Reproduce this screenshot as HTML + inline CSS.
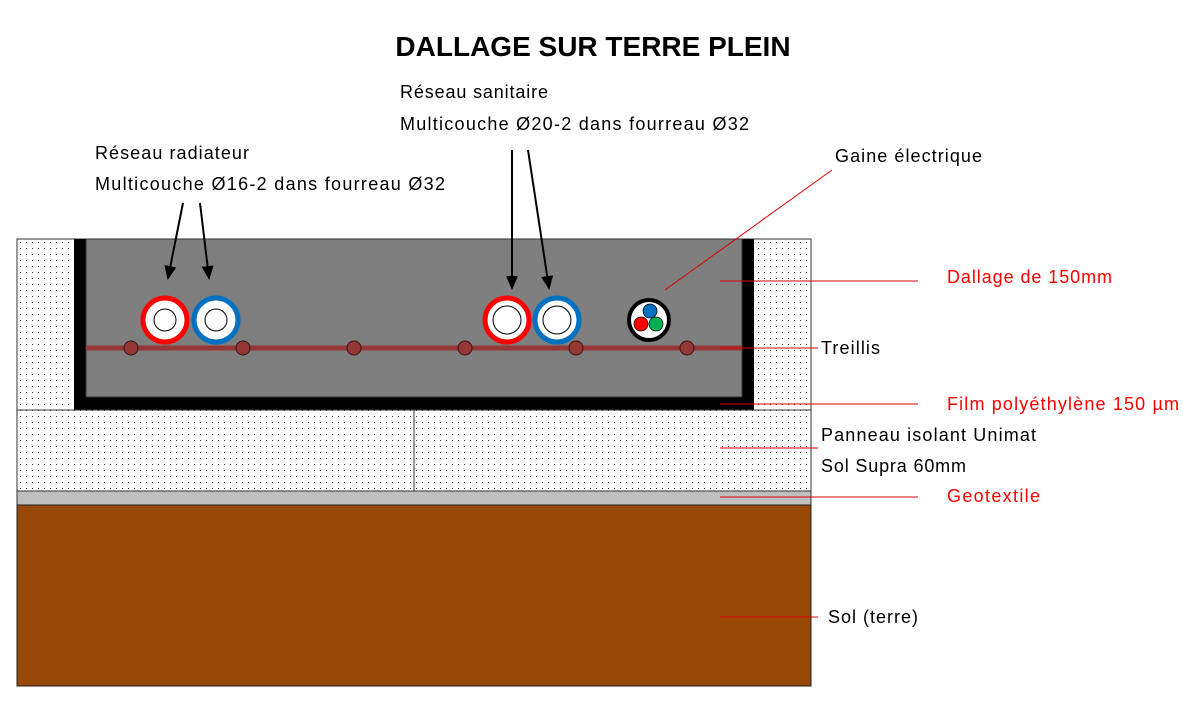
<!DOCTYPE html>
<html><head><meta charset="utf-8"><style>
body{margin:0;background:#fff}
svg text{font-family:"Liberation Sans",sans-serif;font-size:18px}
</style></head><body>
<svg width="1183" height="700" viewBox="0 0 1183 700" xmlns="http://www.w3.org/2000/svg">
<defs>
<pattern id="d" width="6" height="6" patternUnits="userSpaceOnUse"><rect width="6" height="6" fill="#fff"/><rect x="2" y="2" width="1" height="1" fill="#333"/></pattern>
<marker id="a" markerWidth="14" markerHeight="12" refX="12" refY="6" orient="auto" markerUnits="userSpaceOnUse"><path d="M0,0 L14,6 L0,12z" fill="#000"/></marker>
</defs>
<text x="593" y="56" text-anchor="middle" style="font-size:28px;font-weight:bold">DALLAGE SUR TERRE PLEIN</text>
<rect x="17" y="239" width="794" height="171" fill="url(#d)" stroke="#333"/>
<rect x="74" y="239" width="680" height="171" fill="#000"/>
<rect x="86" y="239" width="656" height="158" fill="#7f7f7f" stroke="#333" stroke-width="1"/>
<rect x="17" y="410" width="397" height="81" fill="url(#d)" stroke="#333"/>
<rect x="414" y="410" width="397" height="81" fill="url(#d)" stroke="#333"/>
<rect x="17" y="491" width="794" height="14" fill="#bfbfbf" stroke="#333"/>
<rect x="17" y="505" width="794" height="181" fill="#974706" stroke="#222"/>
<line x1="86" y1="348" x2="742" y2="348" stroke="#953735" stroke-width="5"/>
<g fill="#953735" stroke="#3a1010" stroke-width="1">
<circle cx="131" cy="348" r="7"/><circle cx="243" cy="348" r="7"/><circle cx="354" cy="348" r="7"/><circle cx="465" cy="348" r="7"/><circle cx="576" cy="348" r="7"/><circle cx="687" cy="348" r="7"/></g>
<g fill="#fff">
<circle cx="165" cy="320" r="22" stroke="#f00" stroke-width="5"/><circle cx="165" cy="320" r="11" stroke="#000" stroke-width="1"/>
<circle cx="216" cy="320" r="22" stroke="#0070c0" stroke-width="5"/><circle cx="216" cy="320" r="11" stroke="#000" stroke-width="1"/>
<circle cx="507" cy="320" r="22" stroke="#f00" stroke-width="5"/><circle cx="507" cy="320" r="14" stroke="#000" stroke-width="1"/>
<circle cx="557" cy="320" r="22" stroke="#0070c0" stroke-width="5"/><circle cx="557" cy="320" r="14" stroke="#000" stroke-width="1"/>
<circle cx="649" cy="320" r="20" stroke="#000" stroke-width="4"/></g>
<circle cx="650" cy="311" r="7" fill="#0070c0" stroke="#000" stroke-width="0.7"/>
<circle cx="641" cy="324" r="7" fill="#f00" stroke="#000" stroke-width="0.7"/>
<circle cx="656" cy="324" r="7" fill="#00b050" stroke="#000" stroke-width="0.7"/>
<g stroke="#000" stroke-width="2" marker-end="url(#a)">
<line x1="183" y1="203" x2="168" y2="278"/><line x1="200" y1="203" x2="209" y2="278"/>
<line x1="512" y1="150" x2="512" y2="288"/><line x1="528" y1="150" x2="549" y2="288"/></g>
<g stroke="#d00" stroke-width="1">
<line x1="665" y1="290" x2="832" y2="170"/>
<line x1="720" y1="281" x2="918" y2="281"/>
<line x1="720" y1="348" x2="818" y2="348"/>
<line x1="720" y1="404" x2="918" y2="404"/>
<line x1="720" y1="448" x2="818" y2="448"/>
<line x1="720" y1="497" x2="918" y2="497"/>
<line x1="720" y1="617" x2="818" y2="617"/></g>
<text x="95" y="159" textLength="154">Réseau radiateur</text>
<text x="95" y="190" textLength="350">Multicouche  Ø16-2 dans fourreau Ø32</text>
<text x="400" y="98" textLength="148">Réseau sanitaire</text>
<text x="400" y="130" textLength="349">Multicouche  Ø20-2 dans fourreau Ø32</text>
<text x="835" y="162" textLength="147">Gaine électrique</text>
<text x="947" y="283" fill="#f00" textLength="165">Dallage de 150mm</text>
<text x="821" y="354" textLength="59">Treillis</text>
<text x="947" y="410" fill="#f00" textLength="232">Film polyéthylène 150 µm</text>
<text x="821" y="441" textLength="215">Panneau isolant Unimat</text>
<text x="821" y="472" textLength="145">Sol Supra 60mm</text>
<text x="947" y="502" fill="#f00" textLength="93">Geotextile</text>
<text x="828" y="623" textLength="90">Sol (terre)</text>
</svg>
</body></html>
